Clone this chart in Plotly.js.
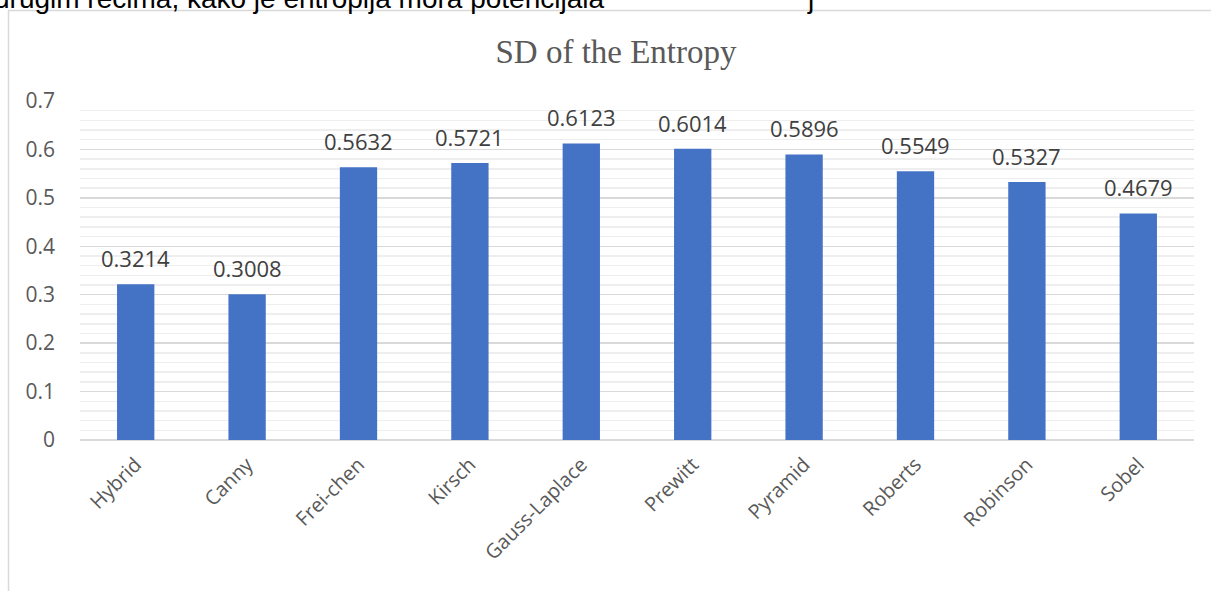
<!DOCTYPE html>
<html>
<head>
<meta charset="utf-8">
<script src="https://cdn.plot.ly/plotly-3.0.1.min.js"></script>
<style>
html,body{margin:0;padding:0;background:#fff;}
#chart{width:1211px;height:591px;}
</style>
</head>
<body>
<div id="chart"></div>
<script>
const categories = ["Hybrid","Canny","Frei-chen","Kirsch","Gauss-Laplace","Prewitt","Pyramid","Roberts","Robinson","Sobel"];
const sdValues = [0.3214,0.3008,0.5632,0.5721,0.6123,0.6014,0.5896,0.5549,0.5327,0.4679];
const valueLabels = ["0.3214","0.3008","0.5632","0.5721","0.6123","0.6014","0.5896","0.5549","0.5327","0.4679"];
const yTickValues = [0,0.1,0.2,0.3,0.4,0.5,0.6,0.7];
const yTickLabels = ["0","0.1","0.2","0.3","0.4","0.5","0.6","0.7"];
const chartTitle = "SD of the Entropy";
const topText = "drugim rečima, kako je entropija mora potencijala";

const W = 1211, H = 591;
const L = 80, R = 17, T = 101, B = 151;
const pw = W - L - R, ph = H - T - B;
const px = x => (x - L) / pw;
const py = y => 1 - (y - T) / ph;

const trace = {
  type: 'bar',
  x: categories,
  y: sdValues,
  marker: {color: '#4472c4'},
  hoverinfo: 'x+y'
};

const labelAnnotations = categories.map((c, i) => ({
  x: c, y: sdValues[i], xref: 'x', yref: 'y',
  text: valueLabels[i], showarrow: false,
  yanchor: 'bottom', yshift: 9,
  font: {family: 'Open Sans, sans-serif', size: 22, color: '#404040'}
}));

const layout = {
  width: W, height: H,
  margin: {l: L, r: R, t: T, b: B, pad: 0},
  paper_bgcolor: '#ffffff',
  plot_bgcolor: '#ffffff',
  showlegend: false,
  bargap: 0.665,
  title: {
    text: chartTitle,
    font: {family: 'Liberation Serif, Times New Roman, serif', size: 33, color: '#595959'},
    x: px(616), xref: 'paper', xanchor: 'center',
    y: 1 - 51 / H, yref: 'container', yanchor: 'middle'
  },
  xaxis: {
    type: 'category',
    tickangle: -45,
    tickfont: {family: 'Open Sans, sans-serif', size: 20, color: '#595959'},
    ticklabelstandoff: 8,
    showgrid: false, showline: false, ticks: '',
    fixedrange: true
  },
  yaxis: {
    range: [0, 0.7],
    tickvals: yTickValues, ticktext: yTickLabels,
    tickfont: {family: 'Open Sans, sans-serif', size: 21, color: '#595959'},
    ticklabelstandoff: 24,
    showgrid: true, gridcolor: '#d9d9d9', gridwidth: 1.5,
    zeroline: true, zerolinecolor: '#d9d9d9', zerolinewidth: 1.5,
    minor: {dtick: 0.02, showgrid: true, gridcolor: '#eeeeee', gridwidth: 1.5},
    showline: false, ticks: '',
    fixedrange: true
  },
  annotations: labelAnnotations.concat([
    {xref: 'paper', yref: 'paper', x: px(-8), y: py(16), xanchor: 'left', yanchor: 'bottom',
     text: topText, showarrow: false, font: {family: 'Liberation Sans, Arial, sans-serif', size: 28, color: '#000000'}},
    {xref: 'paper', yref: 'paper', x: px(805), y: py(16), xanchor: 'left', yanchor: 'bottom',
     text: 'j', showarrow: false, font: {family: 'Liberation Sans, Arial, sans-serif', size: 28, color: '#000000'}}
  ]),
  shapes: [
    {type: 'line', xref: 'paper', yref: 'paper', x0: px(8.5), x1: px(8.5), y0: py(10), y1: py(600),
     line: {color: '#d9d9d9', width: 1.5}},
    {type: 'line', xref: 'paper', yref: 'paper', x0: px(8.5), x1: px(1230), y0: py(10.5), y1: py(10.5),
     line: {color: '#d9d9d9', width: 1.5}}
  ]
};

Plotly.newPlot('chart', [trace], layout, {displayModeBar: false, staticPlot: true});
</script>
</body>
</html>
